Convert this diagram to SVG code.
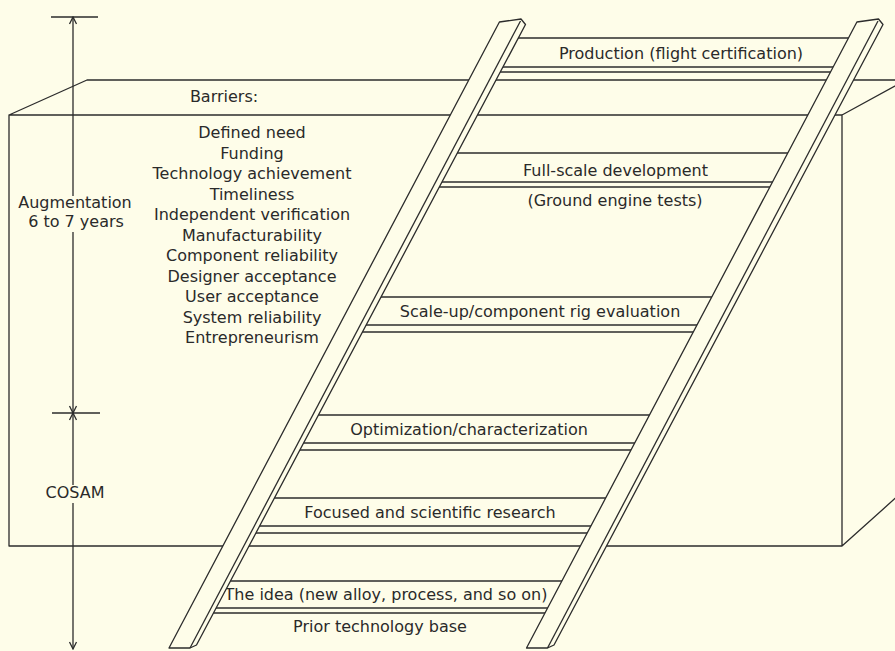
<svg xmlns="http://www.w3.org/2000/svg" width="895" height="651" viewBox="0 0 895 651">
<defs>
<style>
.ln{fill:none;stroke:#2c2c2c;stroke-width:1.3;stroke-linejoin:round}
.sh{fill:#fefde9;stroke:#2c2c2c;stroke-width:1.3;stroke-linejoin:round}
.t{font-family:"DejaVu Sans","Liberation Sans",sans-serif;font-size:16px;fill:#2a2a2a;text-anchor:middle}
</style>
<marker id="ah" markerUnits="userSpaceOnUse" viewBox="-9 -5 10 10" refX="0" refY="0" markerWidth="10" markerHeight="10" orient="auto">
<path d="M-7,-3.5 L0,0 L-7,3.5" fill="none" stroke="#2c2c2c" stroke-width="1.3"/>
</marker>
</defs>
<rect width="895" height="651" fill="#fefde9"/>

<g id="box" class="ln">
<path d="M9,115 H842 V546 H9 Z M9,115 L87,80 H895 M842,115 L906,80 M842,546 L900,494"/>
</g>

<g id="barriers">
<text class="t" x="224" y="102">Barriers:</text>
<text class="t" x="252" y="138">Defined need</text>
<text class="t" x="252" y="158.5">Funding</text>
<text class="t" x="252" y="179">Technology achievement</text>
<text class="t" x="252" y="199.5">Timeliness</text>
<text class="t" x="252" y="220">Independent verification</text>
<text class="t" x="252" y="240.5">Manufacturability</text>
<text class="t" x="252" y="261">Component reliability</text>
<text class="t" x="252" y="281.5">Designer acceptance</text>
<text class="t" x="252" y="302">User acceptance</text>
<text class="t" x="252" y="322.5">System reliability</text>
<text class="t" x="252" y="343">Entrepreneurism</text>
</g>

<g id="dimension">
<path class="ln" d="M51,17 H98 M52,413 H100"/>
<path class="ln" marker-end="url(#ah)" d="M73,196 V17"/>
<path class="ln" marker-end="url(#ah)" d="M73,232 V413"/>
<path class="ln" marker-end="url(#ah)" d="M73,485 V413"/>
<path class="ln" marker-end="url(#ah)" d="M73,503 V649"/>
<text class="t" x="75" y="208">Augmentation</text>
<text class="t" x="76" y="227">6 to 7 years</text>
<text class="t" x="75" y="498">COSAM</text>
</g>

<g id="rungs">
<g id="rung-production">
<path class="sh" d="M515,38 H851.5 L833.5,72 H497 Z"/>
<path class="ln" d="M499.7,67 H836.2"/>
<text class="t" x="681" y="59">Production (flight certification)</text>
</g>
<g id="rung-fullscale">
<path class="sh" d="M454.3,153 H790.8 L772.8,187 H436.3 Z"/>
<path class="ln" d="M439,182 H775.5"/>
<text class="t" x="615.5" y="176">Full-scale development</text>
<text class="t" x="615" y="206">(Ground engine tests)</text>
</g>
<g id="rung-scaleup">
<path class="sh" d="M378.2,297 H714.7 L696.3,332 H359.8 Z"/>
<path class="ln" d="M363.5,325 H700"/>
<text class="t" x="540" y="317">Scale-up/component rig evaluation</text>
</g>
<g id="rung-optimization">
<path class="sh" d="M315.9,415 H652.4 L634,450 H297.5 Z"/>
<path class="ln" d="M301.2,443 H637.7"/>
<text class="t" x="469" y="435">Optimization/characterization</text>
</g>
<g id="rung-focused">
<path class="sh" d="M272.1,498 H608.6 L590.1,533 H253.6 Z"/>
<path class="ln" d="M257.3,526 H593.8"/>
<text class="t" x="430" y="517.5">Focused and scientific research</text>
</g>
<g id="rung-idea">
<path class="sh" d="M228.3,581 H564.8 L547.9,613 H211.4 Z"/>
<path class="ln" d="M214,608 H550.5"/>
<text class="t" x="386" y="600">The idea (new alloy, process, and so on)</text>
<text class="t" x="380" y="632">Prior technology base</text>
</g>
</g>

<g id="rail-left">
<path class="sh" d="M499.4,22 L521,19 L525.5,24.5 L196.5,645 L190,648 L169,648 Z"/>
<path class="ln" d="M520.5,21 L190,648"/>
</g>
<g id="rail-right">
<path class="sh" d="M856.9,22 L878.5,19 L883,24.5 L554,645 L547.5,648 L526.5,648 Z"/>
<path class="ln" d="M878,21 L547.5,648"/>
</g>
</svg>
